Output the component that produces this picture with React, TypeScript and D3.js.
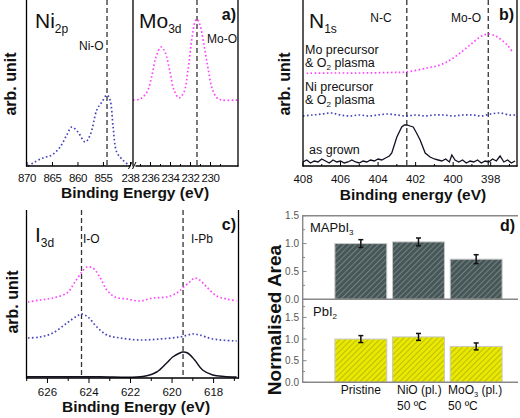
import React from 'react';
import * as d3 from 'd3';

// ---------- Panel a: Ni 2p and Mo 3d ----------
const niEnergy = [869.8, 868.8, 866.9, 865.1, 863.5, 862.2, 861.2, 860.0, 858.6, 857.6, 856.3, 855.3, 854.3, 853.7, 853.1, 852.4, 851.2, 849.8];
const niIntensity = [0, 3, 8, 11, 19, 31, 39, 34, 24, 31, 56, 64, 71, 66, 39, 14, 6, 0];
const moEnergy = [237.75, 237.05, 236.35, 235.85, 235.45, 234.95, 234.55, 234.05, 233.65, 233.15, 232.65, 232.25, 231.85, 231.55, 231.35, 231.05, 230.65, 230.25, 229.85, 229.35, 228.85, 227.25];
const moIntensity = [66, 67, 74, 91, 109, 119, 114, 94, 76, 68, 74, 96, 128, 144, 147, 141, 121, 98, 78, 68, 66, 66];
const niTicks = [870, 865, 860, 855];
const moTicks = [238, 236, 234, 232, 230];
const niOLine = 854.3;
const moOLineA = 231.35;

// ---------- Panel b: N 1s ----------
const bMoEnergy = [407.8, 406.56, 404.96, 403.36, 402.5, 401.4, 400.7, 400.16, 399.63, 399.1, 398.56, 398.13, 397.65, 397.12, 396.8];
const bMoIntensity = [92.7, 93, 93, 93.5, 94, 98, 101, 106, 113, 121, 129, 132, 129, 121, 113];
const bNiEnergy = [408, 407.5, 407, 406.5, 406, 405.5, 405, 404.5, 404, 403.5, 403, 402.5, 402, 401.5, 401, 400.5, 400, 399.5, 399, 398.5, 398, 397.5, 397, 396.7];
const bNiIntensity = [50, 51, 52, 53, 51, 50, 51, 50, 51, 52, 51, 50, 51, 50, 51, 51, 50, 51, 51, 50, 52, 53, 51, 51];
const bGrownEnergy = [408.0, 407.8, 407.6, 407.4, 407.2, 407.0, 406.8, 406.6, 406.4, 406.2, 406.0, 405.8, 405.6, 405.4, 405.2, 405.0, 404.8, 404.6, 404.4, 404.2, 404.0, 403.8, 403.6, 403.4,
  403.27, 403.0, 402.74, 402.6, 402.47, 402.3, 402.13, 401.95, 401.76, 401.49, 401.23, 401.0,
  400.8, 400.6, 400.4, 400.2, 400.07, 399.9, 399.7, 399.5, 399.3, 399.1, 398.9, 398.7, 398.5, 398.3, 398.1, 397.9, 397.7, 397.5, 397.3, 397.1, 396.9, 396.7];
const bGrownIntensity = [4, 6, 3, 5, 4, 7, 5, 3, 6, 4, 5, 3, 4, 6, 4, 3, 5, 4, 6, 5, 7, 6, 8, 10,
  13, 29, 39, 41, 41, 40, 39, 33, 26, 13, 9, 7,
  6, 5, 7, 4, 11, 6, 4, 6, 3, 5, 4, 6, 3, 5, 4, 7, 5, 10, 4, 6, 3, 5];
const bTicks = [408, 406, 404, 402, 400, 398];
const ncLine = 402.47;
const moOLineB = 398.13;

// ---------- Panel c: I 3d ----------
const cEnergy1 = [626.94, 626.36, 625.74, 625.06, 624.68, 624.34, 624.1, 623.81, 623.48, 623.14, 622.75, 622.18, 621.55, 620.93, 620.25, 619.77, 619.49, 619.15, 618.91, 618.67, 618.33, 617.85, 617.37, 616.89];
const cMoIntensity = [76, 78, 80, 85, 96, 106, 111, 110, 101, 88, 81, 79, 77, 80, 81, 85, 90, 96, 100, 98, 91, 82, 79, 77];
const cEnergy2 = [626.94, 626.36, 625.74, 625.06, 624.58, 624.34, 624.05, 623.62, 623.14, 622.51, 621.55, 620.59, 619.63, 619.0, 618.67, 618.04, 616.89];
const cNiIntensity = [40, 41, 45, 55, 62, 64, 61, 51, 43, 40, 38, 39, 41, 44, 43, 39, 37];
const cEnergy3 = [627, 625, 623.48, 621.41, 620.74, 620.26, 619.97, 619.63, 619.49, 619.25, 618.91, 618.53, 618.04, 617.5, 616.89];
const cGrownIntensity = [1.3, 1.3, 1.3, 1.5, 6, 15, 21, 25, 26, 25, 18, 8, 3, 1.5, 1];
const cTicks = [626, 624, 622, 620, 618];
const ioLine = 624.36;
const ipbLine = 619.47;

// ---------- Panel d: normalised area ----------
const categories = ['Pristine', 'NiO', 'MoO3'];
const mapbi3Values = [1.0, 1.03, 0.72];
const mapbi3Errors = [0.07, 0.07, 0.08];
const pbi2Values = [1.0, 1.05, 0.83];
const pbi2Errors = [0.08, 0.08, 0.08];
const dTicks = [0, 0.5, 1.0, 1.5];

const FONT = "'Liberation Sans', Arial, Helvetica, sans-serif";
const BLUE = '#4444b8';
const MAGENTA = '#ff44ff';
const DARK = '#111122';
const TICK_FS = 11.5;

function linePath(xs: number[], ys: number[], sx: any, sy: any) {
  const pts = xs.map((x, i) => [x, ys[i]] as [number, number]);
  return d3.line<[number, number]>().x(d => sx(d[0])).y(d => sy(d[1])).curve(d3.curveCatmullRom.alpha(0.5))(pts) || '';
}

function Sub({ x, y, main, sub, size, subSize, anchor }: any) {
  return (
    <text x={x} y={y} fontSize={size} fontFamily={FONT} textAnchor={anchor || 'start'} fill="#111">
      {main}
      <tspan fontSize={subSize} dy={subSize * 0.45}>{sub}</tspan>
    </text>
  );
}

export default function App() {
  // scales panel a
  const xNi = d3.scaleLinear().domain([870, 849.2]).range([27, 133]);
  const xMo = d3.scaleLinear().domain([238, 228]).range([130.5, 230.5]);
  const yA = d3.scaleLinear().domain([0, 166]).range([166, 0]);
  // panel b
  const xB = d3.scaleLinear().domain([408, 398]).range([303, 490.7]);
  const yB = d3.scaleLinear().domain([0, 166]).range([166, 0]);
  // panel c
  const xC = d3.scaleLinear().domain([627, 616.8]).range([26.7, 238.5]);
  const yC = d3.scaleLinear().domain([0, 168]).range([378, 210]);
  // panel d
  const yTop = d3.scaleLinear().domain([0, 1.5]).range([299.3, 215.7]);
  const yBot = d3.scaleLinear().domain([0, 1.92]).range([382.3, 299.3]);
  const xBand = d3.scaleBand<string>().domain(categories).range([332, 505]).paddingInner(0.1).paddingOuter(0.05);

  const dotted = { fill: 'none', strokeWidth: 1.7, strokeDasharray: '1.6 2.4', strokeLinecap: 'butt' as const };
  const dash = { stroke: '#333', strokeWidth: 1.3, strokeDasharray: '5 3' };

  const bRight = 517;
  const dRight = 518;

  return (
    <svg width={520} height={418} style={{ position: 'absolute', left: 0, top: 0, background: '#fff' }} fontFamily={FONT}>
      <defs>
        <clipPath id="clipNi"><rect x={27} y={0} width={106} height={167} /></clipPath>
        <clipPath id="clipMo"><rect x={133} y={0} width={105} height={167} /></clipPath>
        <clipPath id="clipB"><rect x={303} y={0} width={bRight - 303} height={167} /></clipPath>
        <clipPath id="clipC"><rect x={26.7} y={205} width={212} height={173} /></clipPath>
        <pattern id="hatchDark" patternUnits="userSpaceOnUse" width={4} height={4} patternTransform="rotate(45)">
          <rect width={4} height={4} fill="#475656" />
          <line x1={0} y1={0} x2={0} y2={4} stroke="#859393" strokeWidth={1.4} />
        </pattern>
        <pattern id="hatchYellow" patternUnits="userSpaceOnUse" width={4} height={4} patternTransform="rotate(45)">
          <rect width={4} height={4} fill="#e8e800" />
          <line x1={0} y1={0} x2={0} y2={4} stroke="#a0a010" strokeWidth={1.2} />
        </pattern>
      </defs>

      {/* ================= Panel a ================= */}
      <line x1={xNi(niOLine)} x2={xNi(niOLine)} y1={0} y2={166} {...dash} />
      <line x1={xMo(moOLineA)} x2={xMo(moOLineA)} y1={0} y2={166} {...dash} />
      <path d={linePath(niEnergy, niIntensity, xNi, yA)} stroke={BLUE} {...dotted} clipPath="url(#clipNi)" />
      <path d={linePath(moEnergy, moIntensity, xMo, yA)} stroke={MAGENTA} {...dotted} clipPath="url(#clipMo)" />
      <line x1={26.5} x2={26.5} y1={0} y2={166.5} stroke="#000" strokeWidth={1.3} />
      <line x1={133} x2={133} y1={0} y2={166.5} stroke="#000" strokeWidth={1.3} />
      <line x1={238} x2={238} y1={0} y2={166.5} stroke="#000" strokeWidth={1.3} />
      <line x1={26} x2={130.5} y1={166} y2={166} stroke="#000" strokeWidth={1.3} />
      <line x1={135.5} x2={238.5} y1={166} y2={166} stroke="#000" strokeWidth={1.3} />
      <line x1={128.5} x2={132} y1={169} y2={162} stroke="#000" strokeWidth={1} />
      <line x1={132.5} x2={136} y1={169} y2={162} stroke="#000" strokeWidth={1} />
      {niTicks.map(t => (
        <g key={'ni' + t}>
          <line x1={xNi(t)} x2={xNi(t)} y1={166} y2={162} stroke="#000" />
          <text x={xNi(t)} y={182} fontSize={TICK_FS} letterSpacing={-0.4} textAnchor="middle" fill="#111">{t}</text>
        </g>
      ))}
      {moTicks.map(t => (
        <g key={'mo' + t}>
          <line x1={xMo(t)} x2={xMo(t)} y1={166} y2={162} stroke="#000" />
          <text x={xMo(t)} y={182} fontSize={TICK_FS} letterSpacing={-0.4} textAnchor="middle" fill="#111">{t}</text>
        </g>
      ))}
      {[237, 235, 233, 231, 229].map(t => (
        <line key={'mom' + t} x1={xMo(t)} x2={xMo(t)} y1={166} y2={164} stroke="#000" />
      ))}
      <text x={135} y={198} fontSize={15.5} fontWeight="bold" textAnchor="middle" fill="#111">Binding Energy (eV)</text>
      <text transform="translate(16,84) rotate(-90)" fontSize={16} fontWeight="bold" textAnchor="middle" fill="#111">arb. unit</text>
      <Sub x={35} y={28} main="Ni" sub="2p" size={21} subSize={12} />
      <Sub x={139} y={28} main="Mo" sub="3d" size={21} subSize={12} />
      <text x={79} y={50} fontSize={12} fill="#111">Ni-O</text>
      <text x={207} y={43} fontSize={12} fill="#111">Mo-O</text>
      <text x={236} y={20} fontSize={16} fontWeight="bold" textAnchor="end" fill="#111">a)</text>

      {/* ================= Panel b ================= */}
      <line x1={xB(ncLine)} x2={xB(ncLine)} y1={0} y2={166} {...dash} />
      <line x1={xB(moOLineB)} x2={xB(moOLineB)} y1={0} y2={166} {...dash} />
      <g clipPath="url(#clipB)">
        <path d={linePath(bMoEnergy, bMoIntensity, xB, yB)} stroke={MAGENTA} {...dotted} />
        <path d={linePath(bNiEnergy, bNiIntensity, xB, yB)} stroke={BLUE} {...dotted} />
        <path d={d3.line<number>().x((d, i) => xB(bGrownEnergy[i])).y(d => yB(d))(bGrownIntensity) || ''} stroke={DARK} fill="none" strokeWidth={1.3} />
      </g>
      <line x1={303} x2={303} y1={0} y2={166.5} stroke="#000" strokeWidth={1.3} />
      <line x1={bRight} x2={bRight} y1={0} y2={166.5} stroke="#000" strokeWidth={1.3} />
      <line x1={302.5} x2={bRight + 0.5} y1={166} y2={166} stroke="#000" strokeWidth={1.3} />
      {bTicks.map(t => (
        <g key={'b' + t}>
          <line x1={xB(t)} x2={xB(t)} y1={166} y2={162} stroke="#000" />
          <text x={xB(t)} y={183} fontSize={TICK_FS} textAnchor="middle" fill="#111">{t}</text>
        </g>
      ))}
      {[407, 405, 403, 401, 399, 397].map(t => (
        <line key={'bm' + t} x1={xB(t)} x2={xB(t)} y1={166} y2={164} stroke="#000" />
      ))}
      <text x={413} y={200} fontSize={15.5} fontWeight="bold" textAnchor="middle" fill="#111">Binding energy (eV)</text>
      <text transform="translate(290,84) rotate(-90)" fontSize={16} fontWeight="bold" textAnchor="middle" fill="#111">arb. unit</text>
      <Sub x={309} y={28} main="N" sub="1s" size={21} subSize={12} />
      <text x={381} y={22} fontSize={12} textAnchor="middle" fill="#111">N-C</text>
      <text x={466} y={22} fontSize={12} textAnchor="middle" fill="#111">Mo-O</text>
      <text x={514} y={20} fontSize={16} fontWeight="bold" textAnchor="end" fill="#111">b)</text>
      <text x={305} y={54} fontSize={12.5} fill="#111">Mo precursor</text>
      <text x={305} y={67} fontSize={12.5} fill="#111">&amp; O<tspan fontSize={8} dy={3}>2</tspan><tspan dy={-3}> plasma</tspan></text>
      <text x={305} y={91} fontSize={12.5} fill="#111">Ni precursor</text>
      <text x={305} y={104} fontSize={12.5} fill="#111">&amp; O<tspan fontSize={8} dy={3}>2</tspan><tspan dy={-3}> plasma</tspan></text>
      <text x={309} y={154} fontSize={12.5} fill="#111">as grown</text>

      {/* ================= Panel c ================= */}
      <line x1={xC(ioLine)} x2={xC(ioLine)} y1={210} y2={378} {...dash} />
      <line x1={xC(ipbLine)} x2={xC(ipbLine)} y1={210} y2={378} {...dash} />
      <g clipPath="url(#clipC)">
        <path d={linePath(cEnergy1, cMoIntensity, xC, yC)} stroke={MAGENTA} {...dotted} />
        <path d={linePath(cEnergy2, cNiIntensity, xC, yC)} stroke={BLUE} {...dotted} />
        <path d={linePath(cEnergy3, cGrownIntensity, xC, yC)} stroke={DARK} fill="none" strokeWidth={1.5} />
      </g>
      <line x1={26.5} x2={26.5} y1={210} y2={378.5} stroke="#000" strokeWidth={1.3} />
      <line x1={238.5} x2={238.5} y1={210} y2={378.5} stroke="#000" strokeWidth={1.3} />
      <line x1={26} x2={239} y1={378} y2={378} stroke="#000" strokeWidth={1.3} />
      {cTicks.map(t => (
        <g key={'c' + t}>
          <line x1={xC(t)} x2={xC(t)} y1={378} y2={383} stroke="#000" />
          <text x={xC(t)} y={396} fontSize={TICK_FS} textAnchor="middle" fill="#111">{t}</text>
        </g>
      ))}
      {[627, 625, 623, 621, 619, 617].map(t => (
        <line key={'cm' + t} x1={xC(t)} x2={xC(t)} y1={378} y2={381} stroke="#000" />
      ))}
      <text x={136} y={412} fontSize={15.5} fontWeight="bold" textAnchor="middle" fill="#111">Binding Energy (eV)</text>
      <text transform="translate(18,302) rotate(-90)" fontSize={16} fontWeight="bold" textAnchor="middle" fill="#111">arb. unit</text>
      <Sub x={35} y={242} main="I" sub="3d" size={21} subSize={12} />
      <text x={83} y={243} fontSize={12} fill="#111">I-O</text>
      <text x={191} y={243} fontSize={12} fill="#111">I-Pb</text>
      <text x={236} y={230} fontSize={16} fontWeight="bold" textAnchor="end" fill="#111">c)</text>

      {/* ================= Panel d ================= */}
      {categories.map((c, i) => {
        const x0 = xBand(c) as number;
        const w = xBand.bandwidth();
        const cx = x0 + w / 2;
        return (
          <g key={'d' + c}>
            <rect x={x0} y={yTop(mapbi3Values[i])} width={w} height={yTop(0) - yTop(mapbi3Values[i])} fill="url(#hatchDark)" stroke="#c8c8c8" strokeWidth={1} />
            <rect x={x0} y={yBot(pbi2Values[i])} width={w} height={yBot(0) - yBot(pbi2Values[i])} fill="url(#hatchYellow)" stroke="#c8c8c8" strokeWidth={1} />
            <g stroke="#111" strokeWidth={1.5}>
              <line x1={cx} x2={cx} y1={yTop(mapbi3Values[i] + mapbi3Errors[i])} y2={yTop(mapbi3Values[i] - mapbi3Errors[i])} />
              <line x1={cx - 2.5} x2={cx + 2.5} y1={yTop(mapbi3Values[i] + mapbi3Errors[i])} y2={yTop(mapbi3Values[i] + mapbi3Errors[i])} />
              <line x1={cx - 2.5} x2={cx + 2.5} y1={yTop(mapbi3Values[i] - mapbi3Errors[i])} y2={yTop(mapbi3Values[i] - mapbi3Errors[i])} />
              <line x1={cx} x2={cx} y1={yBot(pbi2Values[i] + pbi2Errors[i])} y2={yBot(pbi2Values[i] - pbi2Errors[i])} />
              <line x1={cx - 2.5} x2={cx + 2.5} y1={yBot(pbi2Values[i] + pbi2Errors[i])} y2={yBot(pbi2Values[i] + pbi2Errors[i])} />
              <line x1={cx - 2.5} x2={cx + 2.5} y1={yBot(pbi2Values[i] - pbi2Errors[i])} y2={yBot(pbi2Values[i] - pbi2Errors[i])} />
            </g>
          </g>
        );
      })}
      <line x1={302.7} x2={dRight} y1={215.7} y2={215.7} stroke="#888" strokeWidth={1.4} />
      <line x1={302.7} x2={dRight} y1={299.3} y2={299.3} stroke="#888" strokeWidth={1.4} />
      <line x1={302.7} x2={dRight} y1={382.3} y2={382.3} stroke="#888" strokeWidth={1.4} />
      <line x1={302.7} x2={302.7} y1={215} y2={383} stroke="#888" strokeWidth={1.4} />
      {dTicks.map(t => (
        <g key={'dt' + t}>
          <line x1={302.7} x2={306.5} y1={yTop(t)} y2={yTop(t)} stroke="#888" />
          <text x={299} y={yTop(t) + 3.5} fontSize={10} textAnchor="end" fill="#555">{t.toFixed(1)}</text>
          <line x1={302.7} x2={306.5} y1={yBot(t)} y2={yBot(t)} stroke="#888" />
          <text x={299} y={yBot(t) + 3.5} fontSize={10} textAnchor="end" fill="#555">{t.toFixed(1)}</text>
        </g>
      ))}
      {[0.25, 0.75, 1.25].map(t => (
        <line key={'dmt' + t} x1={302.7} x2={305} y1={yTop(t)} y2={yTop(t)} stroke="#888" />
      ))}
      {[0.25, 0.75, 1.25, 1.75].map(t => (
        <line key={'dmb' + t} x1={302.7} x2={305} y1={yBot(t)} y2={yBot(t)} stroke="#888" />
      ))}
      <text transform="translate(281,320) rotate(-90)" fontSize={19} fontWeight="bold" textAnchor="middle" fill="#111">Normalised Area</text>
      <text x={310} y={232} fontSize={13} fill="#111">MAPbI<tspan fontSize={8} dy={3}>3</tspan></text>
      <text x={313} y={316} fontSize={13} fill="#111">PbI<tspan fontSize={8} dy={3}>2</tspan></text>
      <text x={515} y={231} fontSize={16} fontWeight="bold" textAnchor="end" fill="#111">d)</text>
      <text x={(xBand('Pristine') as number) + xBand.bandwidth() / 2} y={394} fontSize={12} textAnchor="middle" fill="#111">Pristine</text>
      <text x={397} y={394} fontSize={12} fill="#111">NiO (pl.)</text>
      <text x={397} y={410} fontSize={12} fill="#111">50 ºC</text>
      <text x={448} y={394} fontSize={12} fill="#111">MoO<tspan fontSize={7.5} dy={2.5}>3</tspan><tspan dy={-2.5}> (pl.)</tspan></text>
      <text x={448} y={410} fontSize={12} fill="#111">50 ºC</text>
    </svg>
  );
}
